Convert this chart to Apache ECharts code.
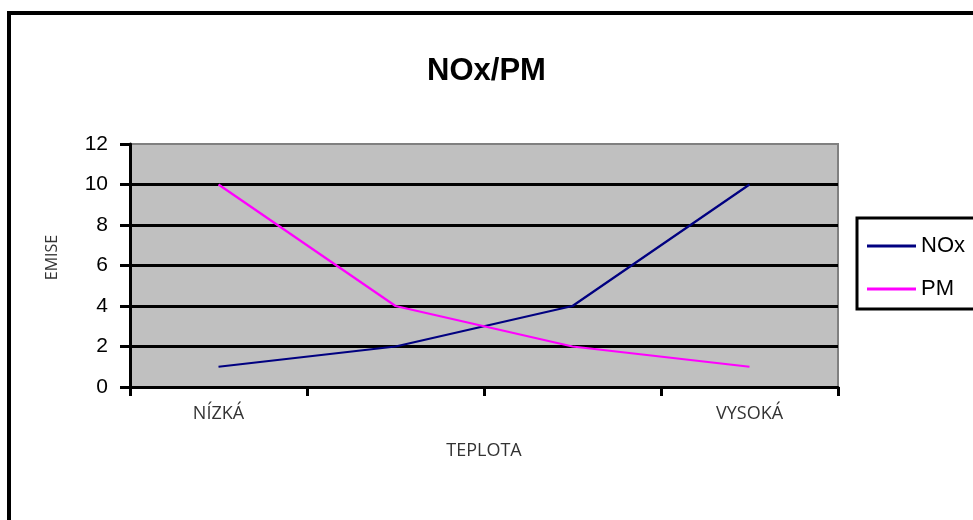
<!DOCTYPE html>
<html>
<head>
<meta charset="utf-8">
<script src="https://cdn.jsdelivr.net/npm/echarts@6/dist/echarts.min.js"></script>
<style>
html,body{margin:0;padding:0;background:#fff;}
#chart{width:973px;height:520px;}
</style>
</head>
<body>
<div id="chart"></div>
<script>
const categories = ['NÍZKÁ', '', '', 'VYSOKÁ'];
const noxValues = [1, 2, 4, 10];
const pmValues = [10, 4, 2, 1];
const seriesNames = ['NOx', 'PM'];
const yTicks = { min: 0, max: 12, interval: 2 };

const chart = echarts.init(document.getElementById('chart'), null, { renderer: 'canvas' });
chart.setOption({
  backgroundColor: '#ffffff',
  animation: false,
  title: {
    text: 'NOx/PM',
    left: 'center',
    top: 51,
    textStyle: { fontFamily: 'Liberation Sans', fontWeight: 'bold', fontSize: 31, color: '#000' }
  },
  graphic: [{
    type: 'rect',
    shape: { x: 9, y: 13, width: 990, height: 540 },
    style: { fill: 'none', stroke: '#000', lineWidth: 4 },
    silent: true
  }],
  legend: {
    orient: 'vertical',
    left: 857,
    top: 218,
    padding: [17, 12, 9, 10],
    itemGap: 21,
    itemWidth: 49,
    itemHeight: 3,
    icon: 'rect',
    borderColor: '#000',
    borderWidth: 3,
    backgroundColor: '#fff',
    textStyle: { fontFamily: 'Liberation Sans', fontSize: 22, color: '#000', padding: [0, 0, 0, 0] },
    data: seriesNames
  },
  grid: {
    left: 130, right: 135, top: 144, bottom: 133,
    show: true,
    backgroundColor: '#c0c0c0',
    borderColor: '#808080',
    borderWidth: 2
  },
  xAxis: {
    type: 'category',
    data: categories,
    boundaryGap: true,
    name: 'TEPLOTA',
    nameLocation: 'middle',
    nameGap: 55,
    nameTextStyle: { fontFamily: 'Open Sans', fontSize: 18, color: '#333' },
    axisLine: { lineStyle: { color: '#000', width: 3 } },
    axisTick: { show: true, interval: 0, length: 9, lineStyle: { color: '#000', width: 3 } },
    axisLabel: { interval: 0, margin: 18, fontFamily: 'Open Sans', fontSize: 18, color: '#333' },
    splitLine: { show: false }
  },
  yAxis: {
    type: 'value',
    min: yTicks.min, max: yTicks.max, interval: yTicks.interval,
    name: 'EMISE',
    nameLocation: 'middle',
    nameGap: 70,
    nameRotate: 90,
    nameTextStyle: { fontFamily: 'Open Sans', fontSize: 16, color: '#333', padding: [0, 0, 0, 16] },
    axisLine: { show: true, lineStyle: { color: '#000', width: 3 } },
    axisTick: { show: true, length: 10, lineStyle: { color: '#000', width: 3 } },
    axisLabel: { margin: 22, fontFamily: 'Liberation Sans', fontSize: 21, color: '#000' },
    splitLine: { show: true, showMinLine: false, showMaxLine: false, lineStyle: { color: '#000', width: 3 } }
  },
  series: [
    {
      name: seriesNames[0], type: 'line', data: noxValues,
      symbol: 'none', color: '#000080',
      lineStyle: { color: '#000080', width: 2.2 }
    },
    {
      name: seriesNames[1], type: 'line', data: pmValues,
      symbol: 'none', color: '#ff00ff',
      lineStyle: { color: '#ff00ff', width: 2.2 }
    }
  ]
});
</script>
</body>
</html>
